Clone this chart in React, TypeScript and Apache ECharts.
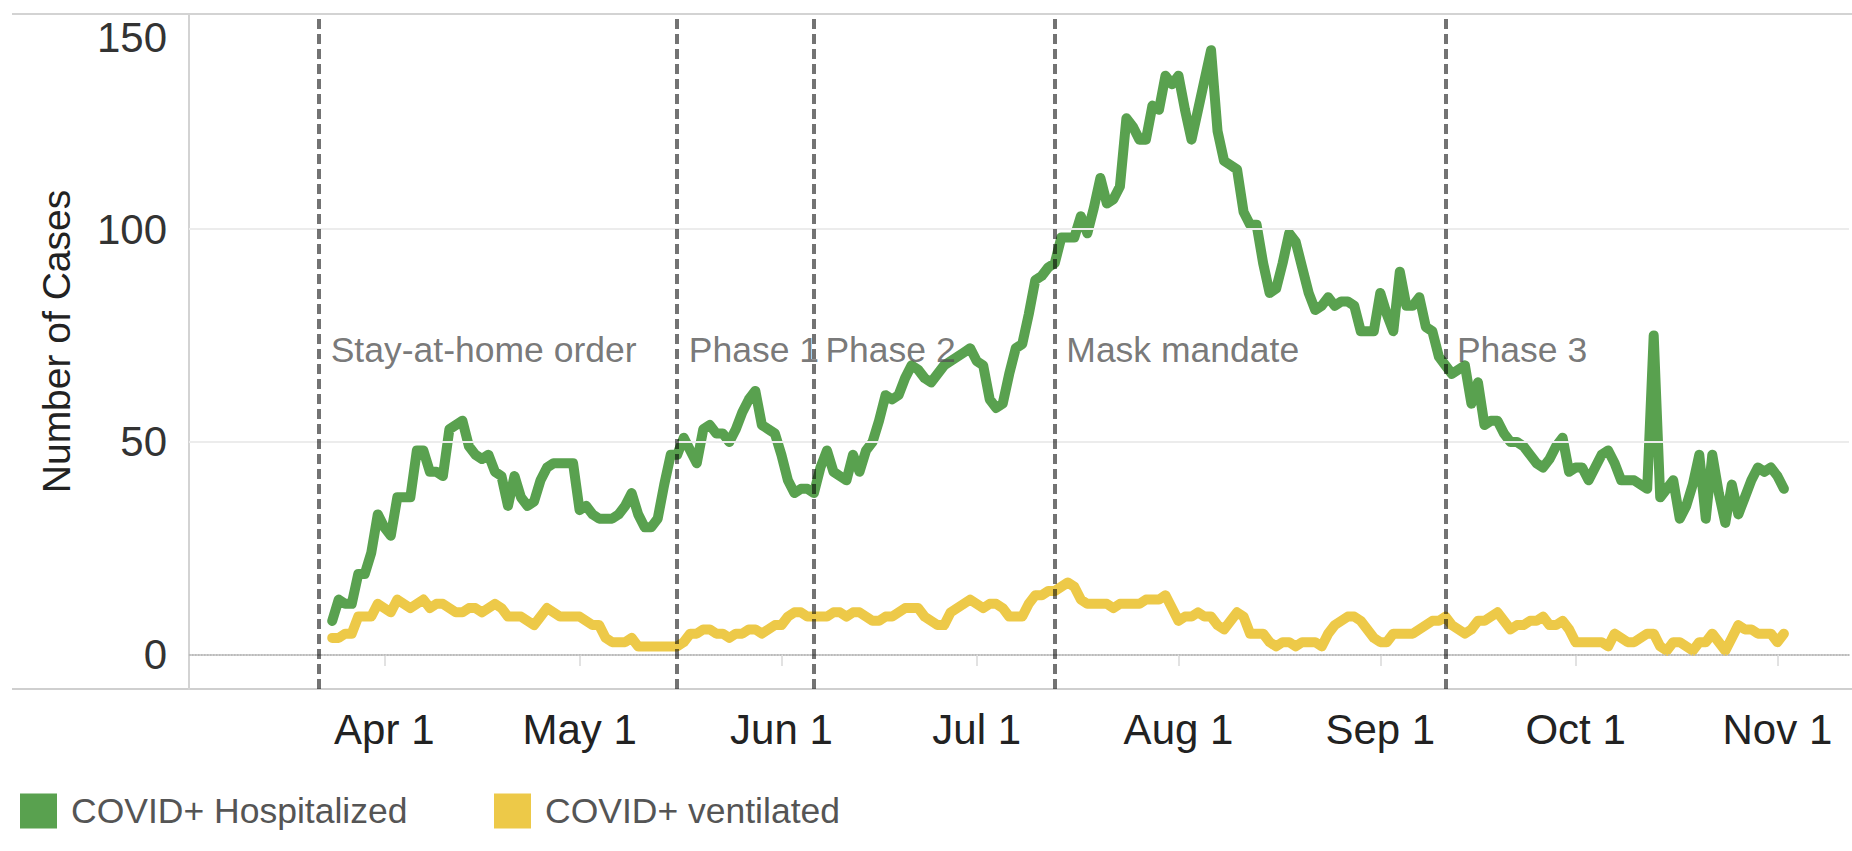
import React, { useEffect, useRef } from "react";
import * as echarts from "echarts";

// Daily x-axis range (2020): Mar 2 .. Nov 12
const AXIS_START = "2020-03-02";
const AXIS_END = "2020-11-12";
// Series start on Mar 24, end on Nov 2
const SERIES_START = "Mar 24";

const hospitalized: number[] = [
  8, 13, 12, 12, 19, 19, 24, 33, 30, 28,
  37, 37, 37, 48, 48, 43, 43, 42, 53, 54,
  55, 49, 47, 46, 47, 43, 42, 35, 42, 37,
  35, 36, 41, 44, 45, 45, 45, 45, 34, 35,
  33, 32, 32, 32, 33, 35, 38, 33, 30, 30,
  32, 40, 47, 47, 51, 48, 45, 53, 54, 52,
  52, 50, 53, 57, 60, 62, 54, 53, 52, 47,
  41, 38, 39, 39, 38, 44, 48, 43, 42, 41,
  47, 43, 48, 50, 55, 61, 60, 61, 65, 68,
  67, 65, 64, 66, 68, 69, 70, 71, 72, 69,
  68, 60, 58, 59, 66, 72, 73, 80, 88, 89,
  91, 92, 98, 98, 98, 103, 99, 105, 112, 106,
  107, 110, 126, 124, 121, 121, 129, 128, 136, 134,
  136, 128, 121, 128, 135, 142, 123, 116, 115, 114,
  104, 101, 101, 92, 85, 86, 92, 99, 97, 91,
  85, 81, 82, 84, 82, 83, 83, 82, 76, 76,
  76, 85, 80, 76, 90, 82, 82, 84, 77, 76,
  70, 68, 66, 67, 68, 59, 64, 54, 55, 55,
  52, 50, 50, 49, 47, 45, 44, 46, 49, 51,
  43, 44, 44, 41, 44, 47, 48, 45, 41, 41,
  41, 40, 39, 75, 37, 39, 41, 32, 35, 40,
  47, 32, 47, 38, 31, 40, 33, 37, 41, 44,
  43, 44, 42, 39,
];

const ventilated: number[] = [
  4, 4, 5, 5, 9, 9, 9, 12, 11, 10,
  13, 12, 11, 12, 13, 11, 12, 12, 11, 10,
  10, 11, 11, 10, 11, 12, 11, 9, 9, 9,
  8, 7, 9, 11, 10, 9, 9, 9, 9, 8,
  7, 7, 4, 3, 3, 3, 4, 2, 2, 2,
  2, 2, 2, 2, 3, 5, 5, 6, 6, 5,
  5, 4, 5, 5, 6, 6, 5, 6, 7, 7,
  9, 10, 10, 9, 9, 9, 9, 10, 10, 9,
  10, 10, 9, 8, 8, 9, 9, 10, 11, 11,
  11, 9, 8, 7, 7, 10, 11, 12, 13, 12,
  11, 12, 12, 11, 9, 9, 9, 12, 14, 14,
  15, 15, 16, 17, 16, 13, 12, 12, 12, 12,
  11, 12, 12, 12, 12, 13, 13, 13, 14, 11,
  8, 9, 9, 10, 9, 9, 7, 6, 8, 10,
  9, 5, 5, 5, 3, 2, 3, 3, 2, 3,
  3, 3, 2, 5, 7, 8, 9, 9, 8, 6,
  4, 3, 3, 5, 5, 5, 5, 6, 7, 8,
  8, 9, 7, 6, 5, 6, 8, 8, 9, 10,
  8, 6, 7, 7, 8, 8, 9, 7, 7, 8,
  6, 3, 3, 3, 3, 3, 2, 5, 4, 3,
  3, 4, 5, 5, 2, 1, 3, 3, 2, 1,
  3, 3, 5, 3, 1, 4, 7, 6, 6, 5,
  5, 5, 3, 5,
];

const eventDates = ["Mar 22", "May 16", "Jun 6", "Jul 13", "Sep 11"];
const eventNames = ["Stay-at-home order", "Phase 1", "Phase 2", "Mask mandate", "Phase 3"];
const eventLabelLevel = 71.6;

const yTicks = [0, 50, 100, 150];
const seriesNames = ["COVID+ Hospitalized", "COVID+ ventilated"];
const seriesColors = ["#59a14f", "#edc948"];

const MONTHS = ["Jan", "Feb", "Mar", "Apr", "May", "Jun", "Jul", "Aug", "Sep", "Oct", "Nov", "Dec"];

function buildCategories(): string[] {
  const out: string[] = [];
  const d = new Date(AXIS_START + "T12:00:00Z");
  const end = new Date(AXIS_END + "T12:00:00Z");
  while (d.getTime() <= end.getTime()) {
    out.push(MONTHS[d.getUTCMonth()] + " " + d.getUTCDate());
    d.setUTCDate(d.getUTCDate() + 1);
  }
  return out;
}

const FONT = "'Liberation Sans', Arial, Helvetica, sans-serif";
const AXIS_FONT = 42;
const SMALL_FONT = 35.5;

export default function App() {
  const ref = useRef<HTMLDivElement>(null);

  useEffect(() => {
    if (!ref.current) return;
    const chart = echarts.init(ref.current, undefined, { renderer: "svg" });
    const categories = buildCategories();
    const startIdx = categories.indexOf(SERIES_START);
    const pad = (arr: number[]) =>
      categories.map((_, i) => {
        const k = i - startIdx;
        return k >= 0 && k < arr.length ? arr[k] : null;
      });

    const isMonthStart = (_i: number, v: string) => / 1$/.test(v);

    const legendBase = {
      top: 793,
      padding: 0,
      icon: "rect",
      itemWidth: 37,
      itemHeight: 35,
      selectedMode: false,
      textStyle: { fontSize: SMALL_FONT, color: "#555", fontFamily: FONT, padding: [0, 0, 0, 9] },
    };

    chart.setOption({
      animation: false,
      textStyle: { fontFamily: FONT },
      grid: { left: 189, right: 3, top: 14, bottom: 162, containLabel: false },
      legend: [
        { ...legendBase, data: [seriesNames[0]], left: 20 },
        { ...legendBase, data: [seriesNames[1]], left: 494 },
      ],
      xAxis: {
        type: "category",
        data: categories,
        boundaryGap: false,
        axisLine: { show: true, lineStyle: { color: "#cfcfcf", width: 2 } },
        axisTick: {
          show: true,
          interval: isMonthStart,
          length: 11,
          lineStyle: { color: "#e2e2e2", width: 2 },
        },
        axisLabel: {
          interval: isMonthStart,
          margin: 19,
          fontSize: AXIS_FONT,
          color: "#222",
          fontFamily: FONT,
        },
        splitLine: { show: false },
      },
      yAxis: {
        type: "value",
        min: -8,
        max: 150.5,
        splitNumber: 3,
        name: "Number of Cases",
        nameLocation: "middle",
        nameGap: 113,
        nameTextStyle: { fontSize: 39, color: "#222", fontFamily: FONT, padding: [0, 0, 0, 20] },
        axisLine: { show: true, lineStyle: { color: "#d3d3d3", width: 2 } },
        axisTick: { show: false },
        splitLine: { show: false },
        axisLabel: {
          margin: 22,
          fontSize: AXIS_FONT,
          color: "#333",
          fontFamily: FONT,
          formatter: (v: number) => {
            if (!yTicks.includes(v)) return "";
            if (v === yTicks[yTicks.length - 1]) return "{t|" + v + "}";
            return String(v);
          },
          rich: {
            t: { fontSize: AXIS_FONT, color: "#333", fontFamily: FONT, padding: [42, 0, 0, 0] },
          },
        },
      },
      graphic: [
        {
          type: "line",
          shape: { x1: 12, y1: 14, x2: 1852, y2: 14 },
          style: { stroke: "#d3d3d3", lineWidth: 2 },
          silent: true,
        },
        {
          type: "line",
          shape: { x1: 12, y1: 689, x2: 1852, y2: 689 },
          style: { stroke: "#cfcfcf", lineWidth: 2 },
          silent: true,
        },
      ],
      series: [
        {
          name: "_grid",
          type: "line",
          data: [],
          z: 1,
          silent: true,
          markLine: {
            silent: true,
            symbol: "none",
            label: { show: false },
            data: [
              { yAxis: 0, lineStyle: { color: "#b5b5b5", type: "dotted", width: 1.5 } },
              { yAxis: 50, lineStyle: { color: "#ececec", type: "solid", width: 2 } },
              { yAxis: 100, lineStyle: { color: "#ececec", type: "solid", width: 2 } },
            ],
          },
        },
        {
          name: seriesNames[1],
          type: "line",
          data: pad(ventilated),
          color: seriesColors[1],
          showSymbol: false,
          symbol: "none",
          z: 2,
          lineStyle: { width: 10, color: seriesColors[1], join: "round", cap: "round" },
        },
        {
          name: seriesNames[0],
          type: "line",
          data: pad(hospitalized),
          color: seriesColors[0],
          showSymbol: false,
          symbol: "none",
          z: 3,
          lineStyle: { width: 10, color: seriesColors[0], join: "round", cap: "round" },
        },
        {
          name: "_events",
          type: "scatter",
          z: 5,
          silent: true,
          symbolSize: 1,
          itemStyle: { color: "rgba(0,0,0,0)" },
          data: eventDates.map((d) => [d, eventLabelLevel]),
          label: {
            show: true,
            position: "right",
            distance: 11,
            fontSize: SMALL_FONT,
            color: "#555",
            fontFamily: FONT,
            formatter: (p: any) => eventNames[p.dataIndex],
          },
          markLine: {
            silent: true,
            symbol: "none",
            label: { show: false },
            lineStyle: { color: "rgba(0,0,0,0.55)", type: [10, 5], width: 4 },
            data: eventDates.map((d) => ({ xAxis: d })),
          },
        },
      ],
    });

    return () => chart.dispose();
  }, []);

  return (
    <div
      ref={ref}
      style={{ position: "absolute", left: 0, top: 0, width: 1852, height: 851, background: "#fff" }}
    />
  );
}
